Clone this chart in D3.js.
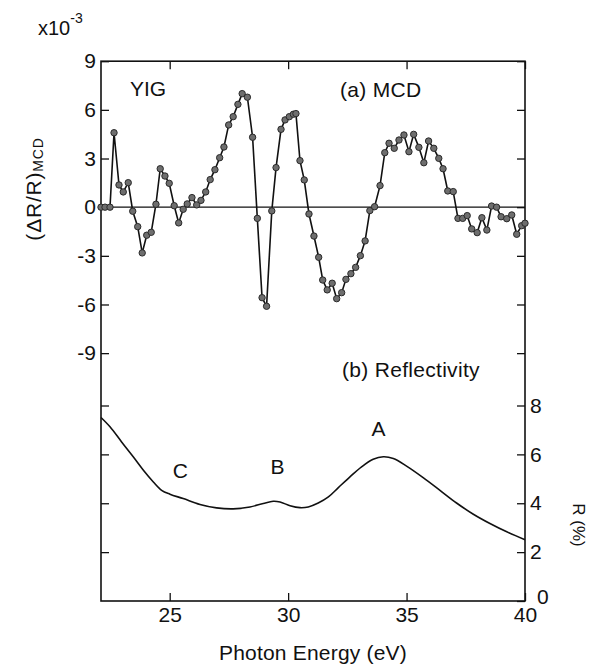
<!DOCTYPE html>
<html>
<head>
<meta charset="utf-8">
<script src="https://cdn.jsdelivr.net/npm/d3@7"></script>
<style>
  html, body { margin: 0; padding: 0; background: #fff; }
  svg text { font-family: "Liberation Sans", Arial, Helvetica, sans-serif; fill: #111; }
</style>
</head>
<body>
<svg id="chart" width="591" height="666"></svg>
<script>
// (a) MCD spectrum: photon energy (eV) and (ΔR/R)_MCD in units of 1e-3
const mcdEnergy = [
  22.10, 22.27, 22.48, 22.65, 22.86, 23.04, 23.25, 23.44, 23.65, 23.84,
  24.03, 24.22, 24.42, 24.60, 24.80, 24.98, 25.19, 25.38, 25.57, 25.74,
  25.94, 26.14, 26.32, 26.52, 26.71, 26.91, 27.11, 27.29, 27.49, 27.68,
  27.88, 28.06, 28.28, 28.50, 28.70, 28.90, 29.09, 29.31, 29.49, 29.70,
  29.87, 30.05, 30.22, 30.33, 30.50, 30.68, 30.88, 31.09, 31.29, 31.46,
  31.65, 31.86, 32.05, 32.26, 32.44, 32.65, 32.85, 33.05, 33.25, 33.45,
  33.65, 33.88, 34.08, 34.26, 34.48, 34.68, 34.89, 35.10, 35.30, 35.52,
  35.73, 35.93, 36.15, 36.36, 36.54, 36.74, 36.97, 37.17, 37.37, 37.56,
  37.75, 37.98, 38.18, 38.39, 38.59, 38.80, 38.99, 39.23, 39.44, 39.65,
  39.86, 40.00
];
const mcdValue = [
  0.00, 0.00, 0.00, 4.59, 1.37, 0.94, 1.51, -0.25, -1.20, -2.82,
  -1.73, -1.55, 0.18, 2.37, 1.92, 1.47, 0.09, -0.97, -0.13, 0.20,
  0.59, 0.14, 0.42, 0.94, 1.70, 2.31, 3.05, 3.71, 5.07, 5.58,
  6.34, 7.00, 6.78, 4.31, -0.69, -5.58, -6.11, -0.23, 2.44, 4.80,
  5.38, 5.58, 5.73, 5.77, 2.87, 1.68, -0.42, -1.78, -3.09, -4.49,
  -5.10, -4.69, -5.64, -5.27, -4.45, -4.10, -3.71, -2.99, -2.08, -0.21,
  0.03, 1.33, 3.36, 3.94, 3.63, 4.14, 4.45, 3.42, 4.49, 3.69,
  2.74, 4.08, 3.63, 3.01, 2.37, 1.00, 0.96, -0.69, -0.69, -0.52,
  -1.34, -1.57, -0.65, -1.41, 0.07, 0.00, -0.59, -0.71, -0.48, -1.67,
  -1.14, -0.99
];

// (b) Reflectivity: photon energy (eV) and R (%)
const reflEnergy = [
  22.10, 22.48, 22.97, 23.46, 23.89, 24.31, 24.66, 25.01, 25.57, 26.28,
  26.98, 27.68, 28.39, 28.95, 29.37, 29.66, 30.08, 30.50, 30.85, 31.27,
  31.70, 32.12, 32.61, 33.10, 33.59, 34.02, 34.44, 35.00, 35.70, 36.41,
  37.11, 37.82, 38.52, 39.23, 40.00
];
const reflValue = [
  7.51, 7.13, 6.51, 5.90, 5.35, 4.87, 4.53, 4.37, 4.19, 3.95,
  3.81, 3.77, 3.85, 3.99, 4.08, 4.05, 3.90, 3.82, 3.85, 4.01,
  4.26, 4.64, 5.08, 5.49, 5.80, 5.90, 5.83, 5.52, 5.05, 4.53,
  4.01, 3.55, 3.17, 2.83, 2.51
];

// Structure labels on the reflectivity curve (energy, R at label baseline)
const peakLabels = ["A", "B", "C"];
const peakEnergy = [33.82, 29.55, 25.45];
const peakLevel = [6.75, 5.2, 5.05];

// Tick values
const energyTicks = [25, 30, 35, 40];
const mcdTicks = [9, 6, 3, 0, -3, -6, -9];
const reflTicks = [0, 2, 4, 6, 8];

const svg = d3.select("#chart");
const plotLeft = 101, plotRight = 525, plotTop = 61.2, plotBottom = 601;

const x = d3.scaleLinear().domain([22.1, 40]).range([plotLeft, plotRight]);
// MCD scale occupies the upper part; extends below -12 into the lower panel
const yMcd = d3.scaleLinear().domain([-12, 9]).range([401.8, plotTop]);
const yR = d3.scaleLinear().domain([0, 8]).range([plotBottom, 405.5]);

const fontSize = 21;
const plain = d => String(d);

function styleAxis(g) {
  g.select(".domain").remove();
  g.selectAll(".tick line").attr("stroke", "#111").attr("stroke-width", 1.3);
  g.selectAll(".tick text")
    .attr("font-family", '"Liberation Sans", Arial, Helvetica, sans-serif')
    .attr("font-size", fontSize)
    .attr("fill", "#111");
}

// Bottom energy axis with labels
svg.append("g")
  .attr("transform", `translate(0,${plotBottom})`)
  .call(d3.axisBottom(x).tickValues(energyTicks).tickSizeInner(-8).tickSizeOuter(0).tickPadding(6)
    .tickFormat(plain))
  .call(styleAxis);

// Top mirrored energy ticks
svg.append("g")
  .attr("transform", `translate(0,${plotTop})`)
  .call(d3.axisTop(x).tickValues(energyTicks).tickSizeInner(-8).tickSizeOuter(0).tickFormat(""))
  .call(styleAxis);

// Left MCD axis
svg.append("g")
  .attr("transform", `translate(${plotLeft},0)`)
  .call(d3.axisLeft(yMcd).tickValues(mcdTicks).tickSizeInner(-8).tickSizeOuter(0).tickPadding(5)
    .tickFormat(plain))
  .call(styleAxis);

// Left mirrored reflectivity ticks
svg.append("g")
  .attr("transform", `translate(${plotLeft},0)`)
  .call(d3.axisLeft(yR).tickValues(reflTicks.filter(d => d > 0)).tickSizeInner(-8).tickSizeOuter(0).tickFormat(""))
  .call(styleAxis);

// Right reflectivity axis with labels; the 0 label sits just clear of the "40" below it
svg.append("g")
  .attr("transform", `translate(${plotRight},0)`)
  .call(d3.axisRight(yR).tickValues(reflTicks).tickSizeInner(-8).tickSizeOuter(0).tickPadding(5)
    .tickFormat(plain))
  .call(styleAxis)
  .call(g => g.selectAll(".tick text").filter(d => d === 0).attr("x", 12).attr("dy", "0.1em"));

// Right mirrored MCD ticks
svg.append("g")
  .attr("transform", `translate(${plotRight},0)`)
  .call(d3.axisRight(yMcd).tickValues(mcdTicks).tickSizeInner(-8).tickSizeOuter(0).tickFormat(""))
  .call(styleAxis);

// Frame
svg.append("rect")
  .attr("x", plotLeft).attr("y", plotTop)
  .attr("width", plotRight - plotLeft).attr("height", plotBottom - plotTop)
  .attr("fill", "none").attr("stroke", "#111").attr("stroke-width", 1.6);

// Zero line of the MCD panel
svg.append("line")
  .attr("x1", plotLeft).attr("x2", plotRight)
  .attr("y1", yMcd(0)).attr("y2", yMcd(0))
  .attr("stroke", "#111").attr("stroke-width", 1.1);

// MCD line and markers
const mcdData = mcdEnergy.map((e, i) => ({ e, v: mcdValue[i] }));
svg.append("path")
  .datum(mcdData)
  .attr("fill", "none").attr("stroke", "#111").attr("stroke-width", 1.6)
  .attr("d", d3.line().x(d => x(d.e)).y(d => yMcd(d.v)));
svg.append("g").selectAll("circle")
  .data(mcdData).join("circle")
  .attr("cx", d => x(d.e)).attr("cy", d => yMcd(d.v))
  .attr("r", 3.2)
  .attr("fill", "#6e6e6e").attr("stroke", "#2a2a2a").attr("stroke-width", 1);

// Reflectivity curve
const reflData = reflEnergy.map((e, i) => ({ e, r: reflValue[i] }));
svg.append("path")
  .datum(reflData)
  .attr("fill", "none").attr("stroke", "#111").attr("stroke-width", 1.6)
  .attr("d", d3.line().curve(d3.curveCatmullRom.alpha(0.5)).x(d => x(d.e)).y(d => yR(d.r)));

// Peak labels
svg.append("g").selectAll("text")
  .data(peakLabels).join("text")
  .attr("x", (d, i) => x(peakEnergy[i]))
  .attr("y", (d, i) => yR(peakLevel[i]))
  .attr("text-anchor", "middle")
  .attr("font-size", fontSize)
  .text(d => d);

// Panel captions
svg.append("text").attr("x", 130).attr("y", 96).attr("font-size", fontSize)
  .text("YIG");
svg.append("text").attr("x", 340).attr("y", 97).attr("font-size", fontSize)
  .attr("letter-spacing", 0.3).text("(a) MCD");
svg.append("text").attr("x", 342).attr("y", 377).attr("font-size", fontSize)
  .attr("letter-spacing", 0.3).text("(b) Reflectivity");

// Scale factor for MCD axis
const sf = svg.append("text").attr("x", 38).attr("y", 35).attr("font-size", 20);
sf.append("tspan").text("x10");
sf.append("tspan").attr("font-size", 14).attr("dy", -12).text("-3");

// Left axis title
const yt = svg.append("text")
  .attr("transform", "translate(41,189) rotate(-90)")
  .attr("text-anchor", "middle")
  .attr("font-size", fontSize)
  .attr("letter-spacing", 0.8);
yt.append("tspan").text("(ΔR/R)");
yt.append("tspan").attr("font-size", 14).attr("dy", 2).text("MCD");

// Right axis title
svg.append("text")
  .attr("transform", "translate(573,525) rotate(90)")
  .attr("text-anchor", "middle")
  .attr("font-size", 17)
  .text("R (%)");

// Bottom axis title
svg.append("text")
  .attr("x", (plotLeft + plotRight) / 2).attr("y", 660)
  .attr("text-anchor", "middle")
  .attr("font-size", fontSize)
  .attr("letter-spacing", 0.2)
  .text("Photon Energy (eV)");
</script>
</body>
</html>
